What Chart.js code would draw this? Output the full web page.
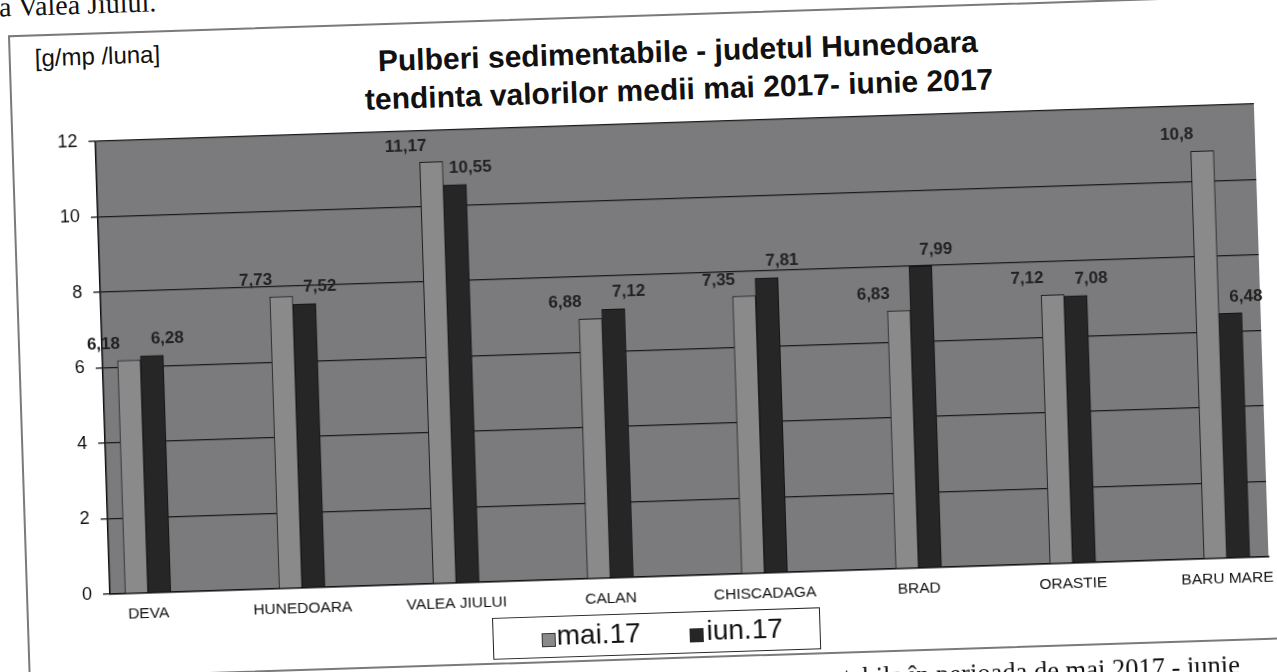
<!DOCTYPE html>
<html>
<head>
<meta charset="utf-8">
<script src="https://cdn.jsdelivr.net/npm/chart.js@4.4.1/dist/chart.umd.min.js"></script>
<style>
  html, body { margin:0; padding:0; width:1277px; height:672px; overflow:hidden; background:#ffffff; }
  #page { position:absolute; left:0; top:0; width:1277px; height:672px;
          transform:rotate(-1.85deg); transform-origin:638.5px 336px; }
  #frame { position:absolute; left:18px; top:15px; width:1300px; height:645px;
           border:2px solid #7a7a7a; background:#fff; box-sizing:border-box; }
  #title { position:absolute; left:287px; top:34px; width:800px; text-align:center;
           font-family:"Liberation Sans", Arial, sans-serif; font-weight:bold; font-size:30px;
           line-height:38px; color:#111; }
  #unit { position:absolute; left:44px; top:25px; font-family:"Liberation Sans", Arial, sans-serif;
          font-size:24px; line-height:28px; color:#111; }
  #legend { position:absolute; left:483px; top:613px; width:328px; height:42px;
            border:1.5px solid #222; box-sizing:border-box; background:#fff; }
  .sw { position:absolute; top:16px; width:14px; height:14px; }
  .lt { position:absolute; top:5px; font-family:"Liberation Sans", Arial, sans-serif;
        font-size:28px; line-height:28px; color:#111; }
  #topText { position:absolute; left:10px; top:-27px; font-family:"Liberation Serif", "Times New Roman", serif;
             font-size:28px; line-height:28px; color:#111; white-space:nowrap; }
  #bottomText { position:absolute; right:48px; top:671px; font-family:"Liberation Serif", "Times New Roman", serif;
             font-size:26.5px; line-height:26px; color:#111; white-space:nowrap; text-align:right; }
  canvas { position:absolute; left:0; top:0; }
</style>
</head>
<body>
<div id="page">
  <div id="topText">a Valea Jiului.</div>
  <div id="frame"></div>
  <div id="title">Pulberi sedimentabile - judetul Hunedoara<br>tendinta valorilor medii mai 2017- iunie 2017</div>
  <div id="unit">[g/mp /luna]</div>
  <canvas id="c" width="1277" height="672"></canvas>
  <div id="legend">
    <div class="sw" style="left:48px;background:#8a8a8a;border:1px solid #333;box-sizing:border-box;"></div>
    <div class="lt" id="lg0" style="left:63px;"></div>
    <div class="sw" style="left:196px;background:#262626;"></div>
    <div class="lt" id="lg1" style="left:213px;"></div>
  </div>
  <div id="bottomText">tabile în perioada de mai 2017 - iunie</div>
</div>
<script>
const categories = ['DEVA','HUNEDOARA','VALEA JIULUI','CALAN','CHISCADAGA','BRAD','ORASTIE','BARU MARE'];
const seriesNames = ['mai.17','iun.17'];
const mai17 = [6.18, 7.73, 11.17, 6.88, 7.35, 6.83, 7.12, 10.8];
const iun17 = [6.28, 7.52, 10.55, 7.12, 7.81, 7.99, 7.08, 6.48];
const yTicks = [0, 2, 4, 6, 8, 10, 12];

document.getElementById('lg0').textContent = seriesNames[0];
document.getElementById('lg1').textContent = seriesNames[1];

Chart.defaults.font.family = '"Liberation Sans", Arial, sans-serif';

const toPoints = arr => arr.map((v, i) => ({ x: i, y: v }));

const plotBg = {
  id: 'plotBg',
  beforeDraw(chart) {
    const a = chart.chartArea, ctx = chart.ctx;
    ctx.save();
    ctx.fillStyle = '#7b7b7e';
    ctx.fillRect(a.left, a.top, a.right - a.left, a.bottom - a.top);
    ctx.restore();
  }
};

const valueLabels = {
  id: 'valueLabels',
  afterDatasetsDraw(chart) {
    const ctx = chart.ctx;
    const dx = [-25, 16];
    ctx.save();
    ctx.font = 'bold 17px "Liberation Sans", Arial, sans-serif';
    ctx.fillStyle = '#222';
    ctx.textAlign = 'center';
    ctx.textBaseline = 'bottom';
    chart.data.datasets.forEach((ds, di) => {
      const meta = chart.getDatasetMeta(di);
      meta.data.forEach((bar, i) => {
        const v = ds.data[i].y;
        ctx.fillText(String(v).replace('.', ','), bar.x + dx[di], bar.y - 8);
      });
    });
    ctx.restore();
  }
};

new Chart(document.getElementById('c'), {
  type: 'bar',
  data: {
    datasets: [
      { label: seriesNames[0], data: toPoints(mai17), backgroundColor: '#8a8a8a',
        borderColor: '#1e1e1e', borderWidth: 1, barThickness: 23 },
      { label: seriesNames[1], data: toPoints(iun17), backgroundColor: '#262626',
        borderColor: '#141414', borderWidth: 1, barThickness: 23 }
    ]
  },
  options: {
    responsive: false,
    animation: false,
    layout: { padding: { left: 42, right: 14.5, top: 124, bottom: 55 } },
    plugins: { legend: { display: false }, title: { display: false }, tooltip: { enabled: false } },
    scales: {
      x: {
        type: 'linear', min: -0.246, max: 7.27, offset: false,
        afterBuildTicks: s => { s.ticks = categories.map((c, i) => ({ value: i })); },
        afterFit: s => { s.height = 40; },
        grid: { display: false, drawTicks: false },
        border: { display: true, color: '#111', width: 1.5 },
        ticks: { autoSkip: false, maxRotation: 0, padding: 11, color: '#111',
                 font: { size: 15.5 }, callback: v => categories[v] ?? '' }
      },
      y: {
        min: 0, max: 12,
        afterBuildTicks: s => { s.ticks = yTicks.map(v => ({ value: v })); },
        afterFit: s => { s.width = 60; },
        grid: { color: '#1a1a1a', lineWidth: 1.3, drawTicks: true, tickLength: 7, tickColor: '#111' },
        border: { display: true, color: '#111', width: 1.5 },
        ticks: { padding: 11, color: '#111', font: { size: 18 } }
      }
    }
  },
  plugins: [plotBg, valueLabels]
});
</script>
</body>
</html>
